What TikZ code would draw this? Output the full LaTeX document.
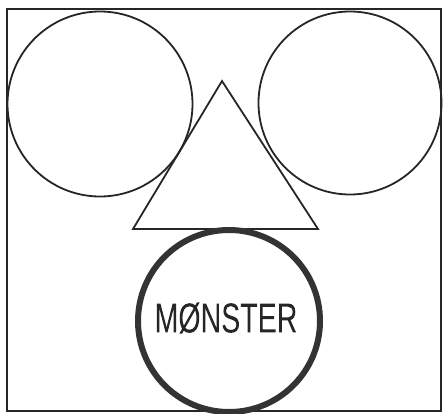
\documentclass[tikz,border=0pt]{standalone}
\usepackage{fontspec}
\setmainfont{Liberation Sans}
\begin{document}
\begin{tikzpicture}[x=1pt,y=-1pt,
  thinline/.style={draw=black!85,line width=1.8pt},
  thickline/.style={draw=black!80,line width=6pt}]
\useasboundingbox (0,0) rectangle (447,413);
\fill[white] (0,0) rectangle (447,413);
\draw[thinline] (7,9) rectangle (441,411);
\node[thinline,circle,minimum size=185pt,inner sep=0pt] (lc) at (100,104) {};
\node[thinline,circle,minimum size=183pt,inner sep=0pt] (rc) at (350,103) {};
\coordinate (ta) at (222,81);
\coordinate (tl) at (133,229);
\coordinate (tr) at (318,229);
\draw[thinline,line join=miter] (ta) -- (tl) -- (tr) -- cycle;
\node[thickline,circle,minimum size=182pt,inner sep=0pt] (mc) at (229,321) {};
\node[text=black!85,draw=black!85,line width=0.6pt,draw opacity=0,font=\fontsize{42}{42}\selectfont,xscale=0.68,inner sep=0pt] (mt) at (226,318) {\addfontfeature{FakeBold=1.5}MØNSTER};
\end{tikzpicture}
\end{document}
